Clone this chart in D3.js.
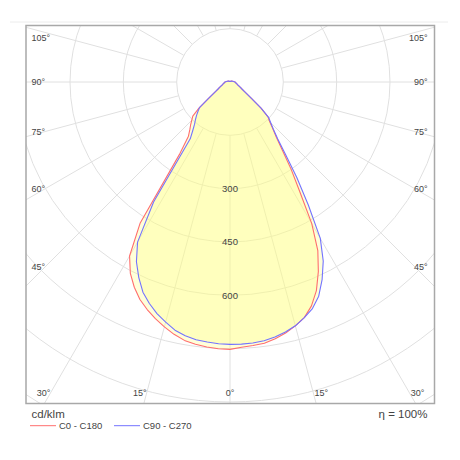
<!DOCTYPE html>
<html>
<head>
<meta charset="utf-8">
<script src="https://d3js.org/d3.v7.min.js"></script>
<style>
    body { margin: 0; background: #fff; }
    #chart-area { width: 460px; height: 460px; }
    text { font-family: "Liberation Sans", Arial, sans-serif; }
</style>
</head>
<body>
<div id="chart-area"></div>
<script>
/* * * * * * * * * * * * * *
*    photometric polar     *
* * * * * * * * * * * * * */
let gammas = [0, 2.5, 5, 7.5, 10, 12.5, 15, 17.5, 20, 22.5, 25, 27.5, 30, 32.5, 35, 37.5, 40, 42.5, 45, 47.5, 50,
    52.5, 55, 57.5, 60, 62.5, 65, 67.5, 70, 72.5, 75, 77.5, 80, 82.5, 85, 87.5, 90, 105, 120, 135, 150, 165, 180]

// cd/klm, right half of each plane pair
let c0 = [749, 747, 744, 741, 733, 723, 710, 695, 670, 635, 588, 535, 460, 365, 300, 242, 203, 178, 158, 145, 114,
    76, 57, 46, 38, 33, 29, 26, 23, 21.5, 20, 18.5, 17, 16, 15.5, 15, 14, 8, 5, 3, 2, 2, 2]
let c90 = [738, 738, 737, 734, 728, 720, 710, 695, 678, 652, 613, 568, 508, 410, 327, 256, 209, 181, 162, 147, 114,
    76, 57, 46, 38, 33, 29, 26, 23, 21.5, 20, 18.5, 17, 16, 15.5, 15, 14, 8, 5, 3, 2, 2, 2]
// left half
let c180 = [752, 751, 748, 744, 738, 727, 713, 698, 681, 662, 637, 607, 565, 470, 245, 192, 176, 164, 152, 142, 114,
    76, 57, 46, 38, 33, 29, 26, 23, 21.5, 20, 18.5, 17, 16, 15.5, 15, 14, 8, 5, 3, 2, 2, 2]
let c270 = [738, 737, 734, 731, 725, 715, 699, 683, 663, 640, 607, 570, 520, 400, 195, 172, 155, 144, 133, 122, 112,
    76, 57, 46, 38, 33, 29, 26, 23, 21.5, 20, 18.5, 17, 16, 15.5, 15, 14, 8, 5, 3, 2, 2, 2]

let rings = [150, 300, 450, 600, 750, 900, 1050]
let ringLabels = [300, 450, 600]
let spokes = d3.range(0, 360, 15)
let sideAngles = [45, 60, 75, 90, 105]
let bottomAngles = [15, 30]
let seriesNames = ["C0 - C180", "C90 - C270"]
let seriesColors = ["#ff6e6e", "#7373ff"]

class PolarDiagram {
    constructor(parentElement) {
        this.parentElement = parentElement
        this.displayData = []

        this.initVis()
    }

    initVis() {
        let vis = this

        vis.width = 460
        vis.height = 460
        vis.frame = {x: 26, y: 25.5, w: 408.5, h: 378}
        vis.cx = 230
        vis.cy = 82

        vis.svg = d3.select("#" + vis.parentElement).append("svg")
            .attr("width", vis.width)
            .attr("height", vis.height)

        vis.svg.append("line")
            .attr("x1", 10).attr("x2", 448)
            .attr("y1", 22).attr("y2", 22)
            .attr("stroke", "#ececec")

        vis.svg.append("clipPath").attr("id", "frame-clip")
            .append("rect")
            .attr("x", vis.frame.x).attr("y", vis.frame.y)
            .attr("width", vis.frame.w).attr("height", vis.frame.h)

        vis.plot = vis.svg.append("g").attr("clip-path", "url(#frame-clip)")
            .append("g")
            .attr("transform", `translate(${vis.cx}, ${vis.cy})`)

        // 150 cd/klm per ring step
        vis.r = d3.scaleLinear().domain([0, 150]).range([0, 53.33])

        vis.line = d3.lineRadial()
            .angle(d => d.a)
            .radius(d => vis.r(d.v))
            .curve(d3.curveLinearClosed)

        this.wrangleData()
    }

    wrangleData() {
        let vis = this

        let toRad = Math.PI / 180
        let build = (left, right) => {
            let pts = []
            for (let i = gammas.length - 1; i >= 0; i--) pts.push({a: Math.PI + gammas[i] * toRad, v: left[i]})
            for (let i = 1; i < gammas.length; i++) pts.push({a: Math.PI - gammas[i] * toRad, v: right[i]})
            return pts
        }
        vis.displayData = [build(c180, c0), build(c270, c90)]

        this.updateVis()
    }

    updateVis() {
        let vis = this
        let toRad = Math.PI / 180

        // grid
        vis.plot.selectAll(".ring")
            .data(rings)
            .enter()
            .append("circle")
            .attr("class", "ring")
            .attr("r", d => vis.r(d))
            .attr("fill", "none")
            .attr("stroke", "#e0e0e0")

        vis.plot.selectAll(".spoke")
            .data(spokes)
            .enter()
            .append("line")
            .attr("class", "spoke")
            .attr("x1", d => vis.r(rings[0]) * Math.sin(d * toRad))
            .attr("y1", d => vis.r(rings[0]) * Math.cos(d * toRad))
            .attr("x2", d => vis.r(1300) * Math.sin(d * toRad))
            .attr("y2", d => vis.r(1300) * Math.cos(d * toRad))
            .attr("stroke", "#e0e0e0")

        // curves
        vis.plot.selectAll(".lid-fill")
            .data(vis.displayData)
            .enter()
            .append("path")
            .attr("class", "lid-fill")
            .attr("d", vis.line)
            .attr("fill", "rgb(255,255,128)")
            .attr("fill-opacity", 0.3)

        vis.plot.selectAll(".lid-line")
            .data(vis.displayData)
            .enter()
            .append("path")
            .attr("class", "lid-line")
            .attr("d", vis.line)
            .attr("fill", "none")
            .attr("stroke", (d, i) => seriesColors[i])
            .attr("stroke-width", 1.1)
            .attr("stroke-linejoin", "round")

        vis.plot.selectAll(".ring-label")
            .data(ringLabels)
            .enter()
            .append("text")
            .attr("class", "ring-label")
            .attr("x", 0)
            .attr("y", d => vis.r(d))
            .attr("dy", "0.35em")
            .attr("text-anchor", "middle")
            .attr("font-size", 9.5)
            .attr("fill", "#444")
            .text(d => d)

        // angle labels
        let labels = vis.svg.append("g")
            .attr("font-size", 9)
            .attr("fill", "#444")

        sideAngles.forEach(a => {
            let y = Math.max(38, vis.cy + 185 / Math.tan(a * toRad))
            labels.append("text").attr("x", 31.5).attr("y", y).attr("dy", "0.35em")
                .attr("text-anchor", "start").text(a + "°")
            labels.append("text").attr("x", 427.5).attr("y", y).attr("dy", "0.35em")
                .attr("text-anchor", "end").text(a + "°")
        })

        let by = 393.3
        labels.append("text").attr("x", vis.cx).attr("y", by).attr("dy", "0.35em")
            .attr("text-anchor", "middle").text("0°")
        bottomAngles.forEach(a => {
            let dx = (by - vis.cy) * Math.tan(a * toRad)
            labels.append("text").attr("x", vis.cx - dx).attr("y", by).attr("dy", "0.35em")
                .attr("text-anchor", "end").text(a + "°")
            labels.append("text").attr("x", vis.cx + dx + 1).attr("y", by).attr("dy", "0.35em")
                .attr("text-anchor", "start").text(a + "°")
        })

        // frame
        vis.svg.append("rect")
            .attr("x", vis.frame.x).attr("y", vis.frame.y)
            .attr("width", vis.frame.w).attr("height", vis.frame.h)
            .attr("fill", "none")
            .attr("stroke", "#a8a8a8")
            .attr("stroke-width", 1.5)

        // units + efficiency
        vis.svg.append("text").attr("x", 31.5).attr("y", 418)
            .attr("font-size", 11.5).attr("fill", "#444").text("cd/klm")
        vis.svg.append("text").attr("x", 427.5).attr("y", 418)
            .attr("font-size", 11.5).attr("fill", "#444").attr("text-anchor", "end").text("η = 100%")

        // legend
        let legend = vis.svg.selectAll(".legend")
            .data(seriesNames)
            .enter()
            .append("g")
            .attr("class", "legend")
            .attr("transform", (d, i) => `translate(${30 + i * 84}, 425.7)`)

        legend.append("line")
            .attr("x1", 0).attr("x2", 26)
            .attr("stroke", (d, i) => seriesColors[i])
        legend.append("text")
            .attr("x", 29)
            .attr("dy", "0.35em")
            .attr("font-size", 9.5)
            .attr("fill", "#444")
            .text(d => d)
    }
}

new PolarDiagram("chart-area")
</script>
</body>
</html>
